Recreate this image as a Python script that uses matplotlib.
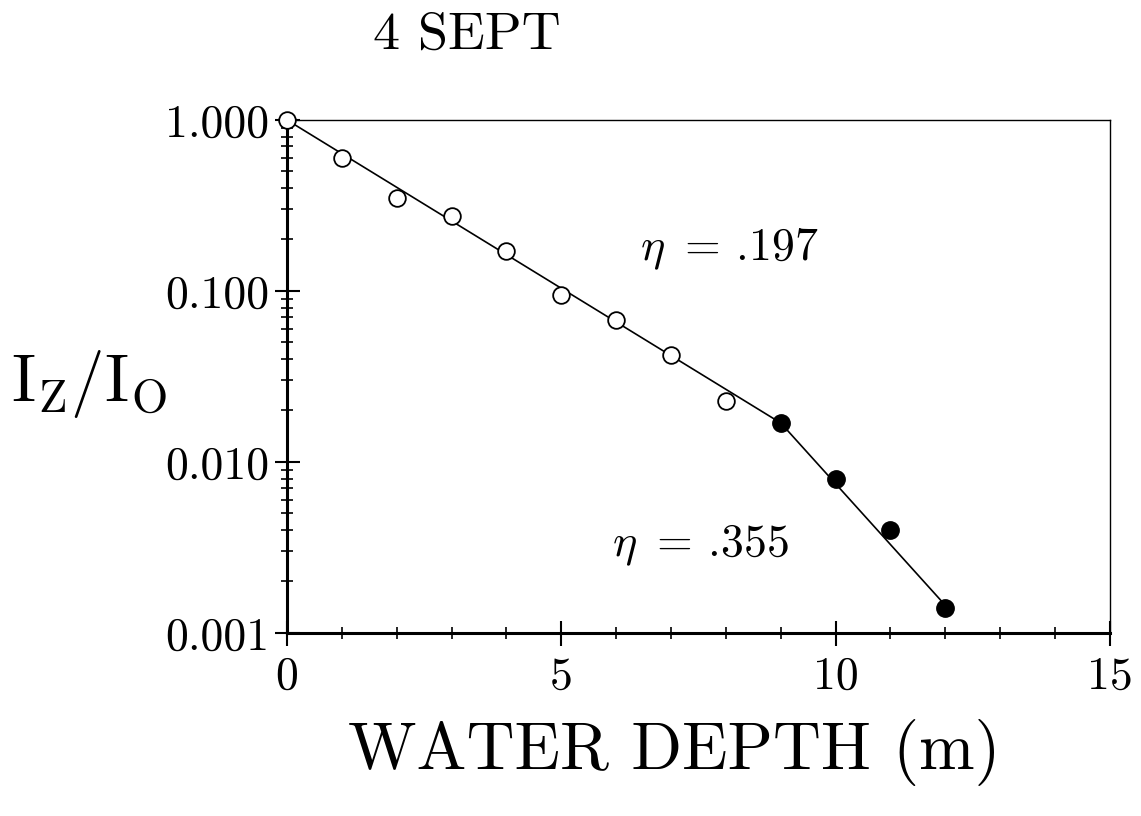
import matplotlib
matplotlib.use("Agg")
import matplotlib.pyplot as plt
from matplotlib.ticker import FixedLocator, LogLocator, NullFormatter, FixedFormatter

plt.rcParams["font.family"] = ["cmr10", "DejaVu Serif"]
plt.rcParams["mathtext.fontset"] = "cm"
plt.rcParams["axes.unicode_minus"] = False

# measured light attenuation, 4 Sept
depth_open = [0, 1, 2, 3, 4, 5, 6, 7, 8]
ratio_open = [1.0, 0.60, 0.35, 0.275, 0.171, 0.095, 0.068, 0.042, 0.0227]
depth_filled = [9, 10, 11, 12]
ratio_filled = [0.0169, 0.0079, 0.0040, 0.0014]

# fitted two-segment line
fit_depth = [0, 9, 12]
fit_ratio = [1.0, 0.0169, 0.00145]

x_ticks = [0, 5, 10, 15]
y_ticks = [0.001, 0.01, 0.1, 1.0]
y_tick_labels = ["0.001", "0.010", "0.100", "1.000"]

fig = plt.figure(figsize=(11.41, 8.16), dpi=100)
ax = fig.add_axes([0.2515, 0.2243, 0.7213, 0.6287])

ax.plot(fit_depth, fit_ratio, color="black", lw=1.2, zorder=2)
ax.plot(depth_open, ratio_open, "o", ms=12, mfc="white", mec="black", mew=1.3,
        clip_on=False, zorder=3)
ax.plot(depth_filled, ratio_filled, "o", ms=12.5, mfc="black", mec="black",
        clip_on=False, zorder=3)

ax.set_yscale("log")
ax.set_xlim(0, 15)
ax.set_ylim(0.001, 1.0)

ax.xaxis.set_major_locator(FixedLocator(x_ticks))
ax.xaxis.set_minor_locator(FixedLocator(range(0, 16)))
ax.yaxis.set_major_locator(FixedLocator(y_ticks))
ax.yaxis.set_major_formatter(FixedFormatter(y_tick_labels))
ax.yaxis.set_minor_locator(LogLocator(base=10, subs=range(2, 10)))
ax.yaxis.set_minor_formatter(NullFormatter())

ax.tick_params(which="major", direction="inout", length=18, width=1.5,
               labelsize=33, top=False, right=False)
ax.tick_params(axis="x", which="major", pad=8)
ax.tick_params(axis="y", which="major", pad=4)
ax.tick_params(which="minor", direction="inout", length=9, width=1.2,
               top=False, right=False)

for side in ["left", "bottom"]:
    ax.spines[side].set_linewidth(2.2)
for side in ["top", "right"]:
    ax.spines[side].set_linewidth(1.0)

ax.text(6.43, 0.174, r"$\eta\,$ = .197", fontsize=33, va="center", ha="left")
ax.text(5.92, 0.00327, r"$\eta\,$ = .355", fontsize=33, va="center", ha="left")

fig.text(0.327, 0.957, "4 SEPT", fontsize=39, ha="left", va="center")
fig.text(0.591, 0.078, "WATER DEPTH (m)", fontsize=48, ha="center", va="center")
fig.text(0.01, 0.53, r"$\mathrm{I}_{\mathrm{Z}}/\mathrm{I}_{\mathrm{O}}$",
         fontsize=48, ha="left", va="center")

fig.savefig("out.png", dpi=100)
